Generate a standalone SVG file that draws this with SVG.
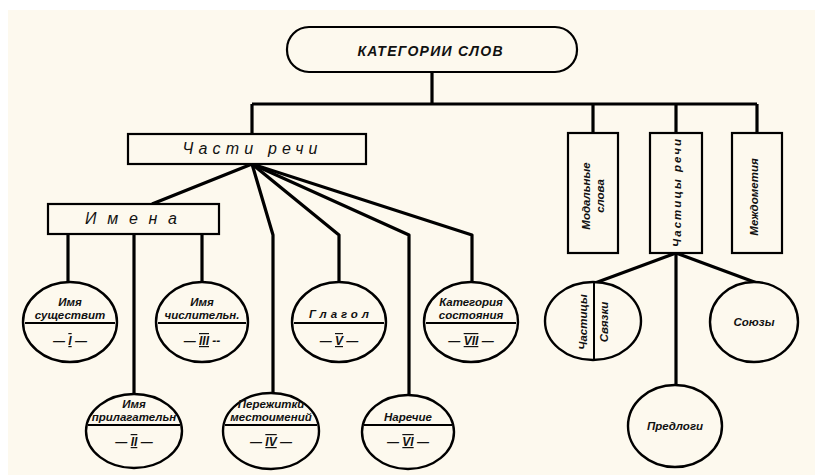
<svg xmlns="http://www.w3.org/2000/svg" width="815" height="475" viewBox="0 0 815 475">
<style>
.bg{fill:#fdf9ee}
.box{fill:#fdf9ee;stroke:#000;stroke-width:2.2}
.el{fill:#fdf9ee;stroke:#000;stroke-width:2.4}
.ln{fill:none;stroke:#000;stroke-width:3.2;stroke-linejoin:round}
.ul{stroke:#000;stroke-width:2}
text{font-family:"Liberation Sans","DejaVu Sans",sans-serif;font-style:italic;fill:#111;text-anchor:middle}
.s{font-size:11.5px;font-weight:bold}
.n{font-size:12px;font-weight:bold}
.num{text-decoration:underline overline}
</style>
<rect width="815" height="475" fill="#ffffff"/>
<rect class="bg" x="8" y="10" width="807" height="465"/>

<g id="connectors">
  <path class="ln" d="M432 72 V104"/>
  <path class="ln" d="M252 104 H757"/>
  <path class="ln" d="M252 104 V134"/>
  <path class="ln" d="M593 104 V133"/>
  <path class="ln" d="M676 104 V133"/>
  <path class="ln" d="M757 104 V133"/>
  <path class="ln" d="M252 164 L152 204"/>
  <path class="ln" d="M252 164 L273 235 V393"/>
  <path class="ln" d="M252 164 L339 235 V282"/>
  <path class="ln" d="M252 164 L409 235 V395"/>
  <path class="ln" d="M252 164 L472 235 V282"/>
  <path class="ln" d="M68 234 V282"/>
  <path class="ln" d="M134 234 V394"/>
  <path class="ln" d="M202 234 V282"/>
  <path class="ln" d="M676 253 L595 283"/>
  <path class="ln" d="M676 253 V385"/>
  <path class="ln" d="M676 253 L757 283"/>
</g>

<g id="root">
  <rect class="box" x="287" y="27" width="290" height="45" rx="22" ry="22"/>
  <text x="430" y="56" font-size="14" font-weight="bold" textLength="145" lengthAdjust="spacing">КАТЕГОРИИ  СЛОВ</text>
</g>

<g id="chasti-rechi">
  <rect class="box" x="128" y="134" width="238" height="30"/>
  <text x="250" y="154" font-size="16" textLength="135" lengthAdjust="spacing">Части  речи</text>
</g>

<g id="imena">
  <rect class="box" x="48" y="204" width="171" height="30"/>
  <text x="131" y="224" font-size="16" textLength="92" lengthAdjust="spacing">Имена</text>
</g>

<g id="modalnye">
  <rect class="box" x="568" y="133" width="50" height="120"/>
  <text class="s" transform="translate(590 196) rotate(-90)" font-size="12.5">Модальные</text>
  <text class="s" transform="translate(604 196) rotate(-90)" font-size="12.5">слова</text>
</g>

<g id="chastitsy-rechi">
  <rect class="box" x="650" y="133" width="52" height="120"/>
  <text class="s" transform="translate(681 193) rotate(-90)" font-size="12.5" textLength="108" lengthAdjust="spacing">Частицы  речи</text>
</g>

<g id="mezhdometiya">
  <rect class="box" x="732" y="133" width="50" height="120"/>
  <text class="s" transform="translate(758 197) rotate(-90)" font-size="12.5">Междометия</text>
</g>

<g id="n1">
  <ellipse class="el" cx="70" cy="322" rx="47" ry="40"/>
  <line class="ul" x1="25" y1="323" x2="115" y2="323"/>
  <text class="s" x="70" y="306">Имя</text>
  <text class="s" x="70" y="319">существит</text>
  <text class="n" x="70" y="345">— <tspan class="num">I</tspan> —</text>
</g>

<g id="n3">
  <ellipse class="el" cx="202" cy="322" rx="46" ry="40"/>
  <line class="ul" x1="158" y1="323" x2="246" y2="323"/>
  <text class="s" x="202" y="306">Имя</text>
  <text class="s" x="202" y="319">числительн.</text>
  <text class="n" x="202" y="345">— <tspan class="num">III</tspan> --</text>
</g>

<g id="n5">
  <ellipse class="el" cx="339" cy="322" rx="47" ry="40"/>
  <line class="ul" x1="294" y1="323" x2="384" y2="323"/>
  <text class="s" x="339" y="318" textLength="60" lengthAdjust="spacing">Глагол</text>
  <text class="n" x="339" y="345">— <tspan class="num">V</tspan> —</text>
</g>

<g id="n7">
  <ellipse class="el" cx="471" cy="322" rx="47" ry="40"/>
  <line class="ul" x1="426" y1="323" x2="516" y2="323"/>
  <text class="s" x="471" y="306">Категория</text>
  <text class="s" x="471" y="319">состояния</text>
  <text class="n" x="471" y="345">— <tspan class="num">VII</tspan> —</text>
</g>

<g id="n2">
  <ellipse class="el" cx="134" cy="431" rx="48" ry="37"/>
  <line class="ul" x1="88" y1="425" x2="180" y2="425"/>
  <text class="s" x="134" y="408">Имя</text>
  <text class="s" x="134" y="421">прилагательн</text>
  <text class="n" x="134" y="446">— <tspan class="num">II</tspan> —</text>
</g>

<g id="n4">
  <ellipse class="el" cx="271" cy="431" rx="48" ry="38"/>
  <line class="ul" x1="225" y1="425" x2="317" y2="425"/>
  <text class="s" x="271" y="408">Пережитки</text>
  <text class="s" x="271" y="421">местоимений</text>
  <text class="n" x="271" y="446">— <tspan class="num">IV</tspan> —</text>
</g>

<g id="n6">
  <ellipse class="el" cx="408" cy="432" rx="46" ry="37"/>
  <line class="ul" x1="364" y1="425" x2="452" y2="425"/>
  <text class="s" x="408" y="421">Наречие</text>
  <text class="n" x="408" y="446">— <tspan class="num">VI</tspan> —</text>
</g>

<g id="chastitsy-svyazki">
  <ellipse class="el" cx="593" cy="321" rx="48" ry="39"/>
  <line class="ul" x1="594" y1="283" x2="594" y2="359"/>
  <text class="s" transform="translate(587 322) rotate(-90)">Частицы</text>
  <text class="s" transform="translate(608 322) rotate(-90)">Связки</text>
</g>

<g id="soyuzy">
  <ellipse class="el" cx="754" cy="322" rx="44" ry="40"/>
  <text class="s" x="754" y="326" font-size="13">Союзы</text>
</g>

<g id="predlogi">
  <ellipse class="el" cx="675" cy="426" rx="47" ry="41"/>
  <text class="s" x="675" y="430" font-size="13">Предлоги</text>
</g>
</svg>
